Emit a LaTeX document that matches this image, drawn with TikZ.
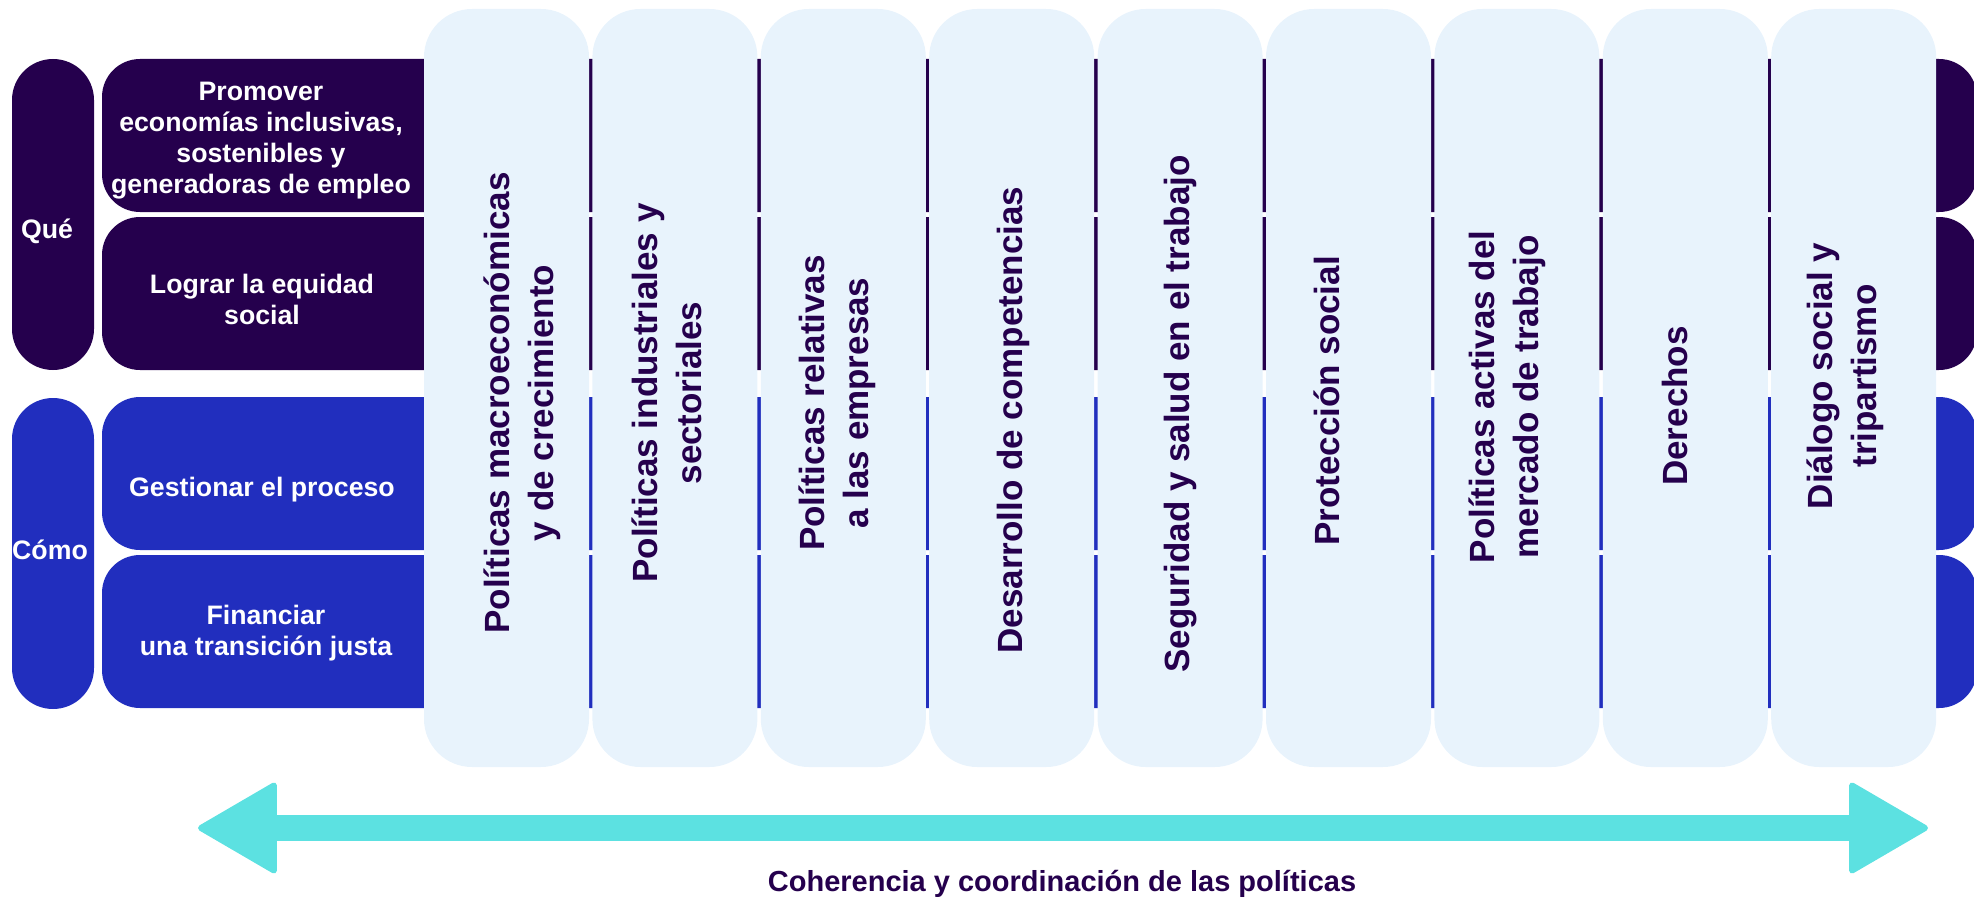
\documentclass[tikz,border=0pt]{standalone}
\usepackage{fontspec}
\setmainfont{Liberation Sans}
\usetikzlibrary{positioning,arrows.meta}

\definecolor{navy}{HTML}{25004D}
\definecolor{royal}{HTML}{212EBE}
\definecolor{colfill}{HTML}{E8F3FC}
\definecolor{arrowcyan}{HTML}{5CE1E1}

\tikzset{
  pill/.style={fill=#1, rounded corners=41pt, minimum width=82pt, minimum height=311pt,
    inner sep=0pt, outer sep=0pt, anchor=north west},
  rowbox/.style={fill=#1, rounded corners=38pt, minimum width=1875pt, minimum height=153pt,
    inner sep=0pt, outer sep=0pt, anchor=north west},
  column/.style={fill=colfill, rounded corners=48pt, minimum width=165pt, minimum height=758pt,
    inner sep=0pt, outer sep=0pt},
  rowtext/.style={text=white, font=\fontsize{26.7}{31}\selectfont\bfseries, align=center},
  coltext/.style={text=navy, font=\fontsize{35}{44}\selectfont\bfseries, align=center, rotate=90},
  bigarrow/.style={draw=arrowcyan, line width=26pt,
    arrows={Triangle[length=82pt,width=94pt,line width=6pt,round]-Triangle[length=82pt,width=94pt,line width=6pt,round]}},
}

\begin{document}
\begin{tikzpicture}[x=1pt, y=-1pt]
    \useasboundingbox (0,0) rectangle (1974,899);

    % Define nodes
    \node[pill=navy]		(que)		at (12,59) {};
    \node[pill=royal]		(como)		at (12,398) {};
    \node[rowbox=navy]		(r1)		at (102,59) {};
    \node[rowbox=navy]		(r2)		at (102,217) {};
    \node[rowbox=royal]		(r3)		at (102,397) {};
    \node[rowbox=royal]		(r4)		at (102,555) {};

    % policy columns
    \node[column, anchor=north west]		(c1)		at (424,9) {};
    \node[column, right = 3.4pt of c1]		(c2)		{};
    \node[column, right = 3.4pt of c2]		(c3)		{};
    \node[column, right = 3.4pt of c3]		(c4)		{};
    \node[column, right = 3.4pt of c4]		(c5)		{};
    \node[column, right = 3.4pt of c5]		(c6)		{};
    \node[column, right = 3.4pt of c6]		(c7)		{};
    \node[column, right = 3.4pt of c7]		(c8)		{};
    \node[column, right = 3.4pt of c8]		(c9)		{};

    % labels
    \node[rowtext]		(quetext)		at (47,231) {Qué};
    \node[rowtext]		(comotext)		at (50,550) {Cómo};
    \node[rowtext]		(promover)		at (261,141) {Promover\\economías inclusivas,\\sostenibles y\\generadoras de empleo};
    \node[rowtext]		(lograr)		at (262,299) {Lograr la equidad\\social};
    \node[rowtext]		(gestionar)		at (262,490) {Gestionar el proceso};
    \node[rowtext]		(financiar)		at (266,633) {Financiar\\una transición justa};

    \node[coltext]		(macro)		at (522,403) {Políticas macroeconómicas\\y de crecimiento};
    \node[coltext]		(industria)		at (667,393) {Políticas industriales y\\sectoriales};
    \node[coltext]		(empresas)		at (837,403) {Políticas relativas\\a las empresas};
    \node[coltext]		(competencias)		at (1013,420) {Desarrollo de competencias};
    \node[coltext]		(seguridad)		at (1181,414) {Seguridad y salud en el trabajo};
    \node[coltext]		(proteccion)		at (1327,401) {Protección social};
    \node[coltext]		(mercado)		at (1507,397) {Políticas activas del\\mercado de trabajo};
    \node[coltext]		(derechos)		at (1675,406) {Derechos};
    \node[coltext]		(dialogo)		at (1845,376) {Diálogo social y\\tripartismo};

    % Connect nodes
    \coordinate (al) at (198,828);
    \coordinate (ar) at (1928,828);
    \draw[bigarrow] (al) -- (ar);
    \node[text=navy, font=\fontsize{29}{34}\selectfont\bfseries, anchor=base]		(coherencia)		at (1062,891) {Coherencia y coordinación de las políticas};
\end{tikzpicture}
\end{document}
